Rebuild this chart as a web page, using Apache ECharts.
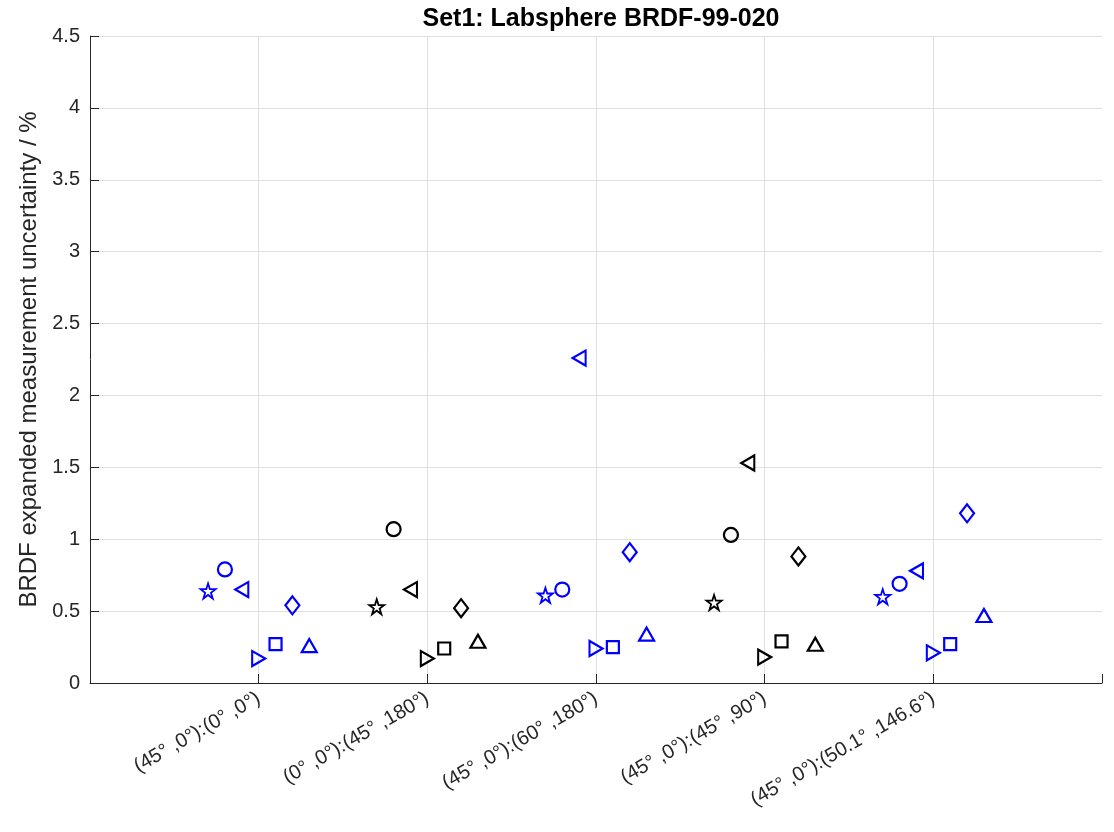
<!DOCTYPE html>
<html>
<head>
<meta charset="UTF-8">
<title>Set1: Labsphere BRDF-99-020</title>
<script src="https://cdn.jsdelivr.net/npm/echarts@6/dist/echarts.min.js"></script>
<style>
  html,body{margin:0;height:100%;background:#fff;}
  #chart{width:1114px;height:832px;}
</style>
</head>
<body>
<div id="chart"></div>
<script>
// geometry pairs, one label per group on the x axis
const groups = ['(45° ,0°):(0° ,0°)','(0° ,0°):(45° ,180°)','(45° ,0°):(60° ,180°)','(45° ,0°):(45° ,90°)','(45° ,0°):(50.1° ,146.6°)'];
const groupColors = ['#0000ff','#000000','#0000ff','#000000','#0000ff'];
const yTicks = [0,0.5,1,1.5,2,2.5,3,3.5,4,4.5];

// one array per marker kind, value per group (%)
const starVals   = [0.64, 0.53, 0.61, 0.56, 0.60];
const circleVals = [0.79, 1.07, 0.65, 1.03, 0.69];
const leftVals   = [0.65, 0.65, 2.26, 1.53, 0.78];
const rightVals  = [0.17, 0.17, 0.24, 0.18, 0.21];
const squareVals = [0.27, 0.24, 0.25, 0.29, 0.27];
const diamondVals= [0.54, 0.52, 0.91, 0.88, 1.18];
const upVals     = [0.26, 0.29, 0.34, 0.27, 0.47];

const markers = [
  {vals:starVals,    off:-0.3, symbol:'path://M50,0L61.8,35.4L99,35.4L68.9,57.3L80.4,92.7L50,70.8L19.6,92.7L31.1,57.3L1,35.4L38.2,35.4Z', size:15, bw:1.8},
  {vals:circleVals,  off:-0.2, symbol:'circle', size:14, bw:2.2},
  {vals:leftVals,    off:-0.1, symbol:'path://M0,5L9,0L9,10Z', size:[13,15], bw:2.2},
  {vals:rightVals,   off:0,    symbol:'path://M9,5L0,0L0,10Z', size:[13,15], bw:2.2},
  {vals:squareVals,  off:0.1,  symbol:'rect', size:12, bw:2.2},
  {vals:diamondVals, off:0.2,  symbol:'diamond', size:[14,18], bw:2.2},
  {vals:upVals,      off:0.3,  symbol:'triangle', size:[15,13], bw:2.2}
];

const txt = '#262626';
const chart = echarts.init(document.getElementById('chart'));

const series = markers.map(m => ({
  type:'scatter',
  symbol:m.symbol,
  symbolSize:m.size,
  emphasis:{disabled:true},
  data:m.vals.map((v,i)=>({
    value:[i+1+m.off, v],
    itemStyle:{color:'rgba(0,0,0,0)', borderColor:groupColors[i], borderWidth:m.bw, opacity:1}
  }))
}));

chart.setOption({
  animation:false,
  textStyle:{fontFamily:'Liberation Sans, Arial, sans-serif'},
  title:{
    text:'Set1: Labsphere BRDF-99-020',
    left:596, top:2, textAlign:'center',
    textStyle:{fontSize:25, fontWeight:'bold', color:'#000'}
  },
  grid:{left:90, right:12, top:36, bottom:149},
  xAxis:{
    type:'value', min:0, max:6, interval:1,
    axisLine:{lineStyle:{color:txt, width:1}},
    axisTick:{inside:true, length:9, lineStyle:{color:txt}},
    axisLabel:{
      customValues:[1,2,3,4,5],
      rotate:30, fontSize:20, color:txt, margin:14,
      formatter:v=>groups[Math.round(v)-1] || ''
    },
    splitLine:{show:true, showMinLine:false, showMaxLine:false, lineStyle:{color:'#dfdfdf'}}
  },
  yAxis:{
    type:'value', min:0, max:4.5, interval:0.5,
    name:'BRDF expanded measurement uncertainty / %',
    nameLocation:'middle', nameGap:47, nameRotate:90,
    nameTextStyle:{fontSize:24, color:txt},
    axisLine:{show:true, lineStyle:{color:txt, width:1}},
    axisTick:{show:true, inside:true, length:9, lineStyle:{color:txt}},
    axisLabel:{fontSize:20, color:txt, margin:10,
      formatter:v=>String(yTicks.find(t=>Math.abs(t-v)<1e-9) ?? v)},
    splitLine:{show:true, lineStyle:{color:'#dfdfdf'}}
  },
  series
});
</script>
</body>
</html>
